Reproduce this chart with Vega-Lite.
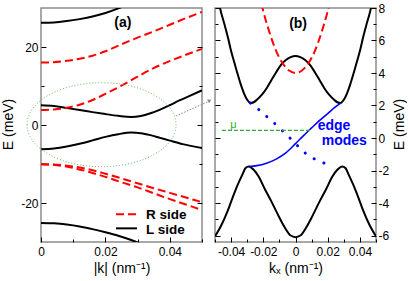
{
 "$schema": "https://vega.github.io/schema/vega-lite/v6.json",
 "background": "white",
 "padding": {"left": 0, "top": 1, "right": 0, "bottom": 0},
 "config": {
  "view": {"stroke": "#8c8c8c", "strokeWidth": 1.5},
  "axis": {"grid": false, "domain": false, "labelFont": "Liberation Sans", "labelFontSize": 12, "labelColor": "#000", "titleFont": "Liberation Sans", "titleFontSize": 14, "titleFontWeight": "normal", "titleColor": "#000", "tickColor": "#000", "tickWidth": 1, "labelFlush": false, "labelOverlap": false},
  "text": {"font": "Liberation Sans"}
 },
 "datasets": {
  "aL": [
   {"curve":"L1","k":0,"E":26.2},{"curve":"L1","k":0.004,"E":26.3},{"curve":"L1","k":0.008,"E":26.65},{"curve":"L1","k":0.012,"E":27.15},{"curve":"L1","k":0.016,"E":27.8},{"curve":"L1","k":0.02,"E":28.7},{"curve":"L1","k":0.024,"E":29.9},{"curve":"L1","k":0.028,"E":31.3},
   {"curve":"L2","k":0,"E":5.05},{"curve":"L2","k":0.004,"E":4.85},{"curve":"L2","k":0.008,"E":4.35},{"curve":"L2","k":0.012,"E":3.85},{"curve":"L2","k":0.016,"E":3.3},{"curve":"L2","k":0.02,"E":2.8},{"curve":"L2","k":0.024,"E":2.35},{"curve":"L2","k":0.028,"E":2.05},{"curve":"L2","k":0.031,"E":2.3},{"curve":"L2","k":0.034,"E":3.0},{"curve":"L2","k":0.037,"E":3.95},{"curve":"L2","k":0.04,"E":5.1},{"curve":"L2","k":0.043,"E":6.3},{"curve":"L2","k":0.046,"E":7.4},{"curve":"L2","k":0.05,"E":8.9},
   {"curve":"L3","k":0,"E":-6.2},{"curve":"L3","k":0.004,"E":-6.0},{"curve":"L3","k":0.008,"E":-5.5},{"curve":"L3","k":0.012,"E":-4.8},{"curve":"L3","k":0.016,"E":-3.95},{"curve":"L3","k":0.02,"E":-3.05},{"curve":"L3","k":0.024,"E":-2.35},{"curve":"L3","k":0.028,"E":-1.95},{"curve":"L3","k":0.031,"E":-2.1},{"curve":"L3","k":0.034,"E":-2.6},{"curve":"L3","k":0.037,"E":-3.3},{"curve":"L3","k":0.04,"E":-4.0},{"curve":"L3","k":0.044,"E":-4.9},{"curve":"L3","k":0.05,"E":-5.9},
   {"curve":"L4","k":0,"E":-25.1},{"curve":"L4","k":0.004,"E":-25.2},{"curve":"L4","k":0.008,"E":-25.5},{"curve":"L4","k":0.012,"E":-26.0},{"curve":"L4","k":0.016,"E":-26.7},{"curve":"L4","k":0.02,"E":-27.5},{"curve":"L4","k":0.024,"E":-28.4},{"curve":"L4","k":0.028,"E":-29.5},{"curve":"L4","k":0.032,"E":-30.8}
  ],
  "aR": [
   {"curve":"R1","k":0,"E":16.0},{"curve":"R1","k":0.004,"E":16.1},{"curve":"R1","k":0.008,"E":16.45},{"curve":"R1","k":0.012,"E":17.0},{"curve":"R1","k":0.016,"E":17.75},{"curve":"R1","k":0.02,"E":18.9},{"curve":"R1","k":0.025,"E":20.7},{"curve":"R1","k":0.03,"E":22.4},{"curve":"R1","k":0.035,"E":24.0},{"curve":"R1","k":0.04,"E":25.7},{"curve":"R1","k":0.045,"E":27.4},{"curve":"R1","k":0.05,"E":29.0},
   {"curve":"R2","k":0,"E":3.85},{"curve":"R2","k":0.004,"E":4.0},{"curve":"R2","k":0.008,"E":4.4},{"curve":"R2","k":0.012,"E":5.2},{"curve":"R2","k":0.016,"E":6.4},{"curve":"R2","k":0.02,"E":8.0},{"curve":"R2","k":0.025,"E":10.1},{"curve":"R2","k":0.03,"E":12.4},{"curve":"R2","k":0.035,"E":14.6},{"curve":"R2","k":0.04,"E":16.4},{"curve":"R2","k":0.045,"E":18.0},{"curve":"R2","k":0.05,"E":19.5},
   {"curve":"R3","k":0,"E":-10.05},{"curve":"R3","k":0.005,"E":-10.2},{"curve":"R3","k":0.01,"E":-10.65},{"curve":"R3","k":0.015,"E":-11.4},{"curve":"R3","k":0.02,"E":-12.5},{"curve":"R3","k":0.025,"E":-13.7},{"curve":"R3","k":0.03,"E":-14.95},{"curve":"R3","k":0.035,"E":-16.2},{"curve":"R3","k":0.04,"E":-17.4},{"curve":"R3","k":0.045,"E":-18.6},{"curve":"R3","k":0.05,"E":-19.8},
   {"curve":"R4","k":0,"E":-10.05},{"curve":"R4","k":0.005,"E":-10.3},{"curve":"R4","k":0.01,"E":-11.0},{"curve":"R4","k":0.015,"E":-12.05},{"curve":"R4","k":0.02,"E":-13.3},{"curve":"R4","k":0.025,"E":-14.7},{"curve":"R4","k":0.03,"E":-16.0},{"curve":"R4","k":0.035,"E":-17.5},{"curve":"R4","k":0.04,"E":-19.0},{"curve":"R4","k":0.045,"E":-20.4},{"curve":"R4","k":0.05,"E":-21.8}
  ],
  "aEll": [{"k":0.0188,"E":0.08}],
  "aArrow": [{"k":0.0419,"E":2.3},{"k":0.0522,"E":6.1}],
  "aHead": [{"k":0.0524,"E":6.25}],
  "aLegR": [{"label":"R side","k":0.0233,"k2":0.0298,"E":-22.9}],
  "aLegL": [{"label":"L side","k":0.0233,"k2":0.0298,"E":-26.5}],
  "aLegT": [{"label":"R side","k":0.0326,"E":-23.0},{"label":"L side","k":0.0326,"E":-26.8}],
  "aTag": [{"label":"(a)","k":0.0254,"E":26.15}],
  "bL": [
   {"curve":"U","k":-0.05,"E":9.2},{"curve":"U","k":-0.048,"E":8.45},{"curve":"U","k":-0.046,"E":7.65},{"curve":"U","k":-0.044,"E":6.95},{"curve":"U","k":-0.042,"E":6.2},{"curve":"U","k":-0.04,"E":5.35},{"curve":"U","k":-0.038,"E":4.65},{"curve":"U","k":-0.036,"E":3.95},{"curve":"U","k":-0.034,"E":3.3},{"curve":"U","k":-0.032,"E":2.75},{"curve":"U","k":-0.03,"E":2.35},{"curve":"U","k":-0.028,"E":2.15},{"curve":"U","k":-0.026,"E":2.2},{"curve":"U","k":-0.024,"E":2.35},{"curve":"U","k":-0.021,"E":2.65},{"curve":"U","k":-0.018,"E":3.05},{"curve":"U","k":-0.015,"E":3.55},{"curve":"U","k":-0.012,"E":4.05},{"curve":"U","k":-0.009,"E":4.5},{"curve":"U","k":-0.006,"E":4.8},{"curve":"U","k":-0.003,"E":4.98},{"curve":"U","k":0,"E":5.05},
   {"curve":"U","k":0.003,"E":4.98},{"curve":"U","k":0.006,"E":4.8},{"curve":"U","k":0.009,"E":4.5},{"curve":"U","k":0.012,"E":4.05},{"curve":"U","k":0.015,"E":3.55},{"curve":"U","k":0.018,"E":3.05},{"curve":"U","k":0.021,"E":2.65},{"curve":"U","k":0.024,"E":2.35},{"curve":"U","k":0.026,"E":2.2},{"curve":"U","k":0.028,"E":2.15},{"curve":"U","k":0.03,"E":2.35},{"curve":"U","k":0.032,"E":2.75},{"curve":"U","k":0.034,"E":3.3},{"curve":"U","k":0.036,"E":3.95},{"curve":"U","k":0.038,"E":4.65},{"curve":"U","k":0.04,"E":5.35},{"curve":"U","k":0.042,"E":6.2},{"curve":"U","k":0.044,"E":6.95},{"curve":"U","k":0.046,"E":7.65},{"curve":"U","k":0.048,"E":8.45},{"curve":"U","k":0.05,"E":9.2},
   {"curve":"D","k":-0.05,"E":-6.05},{"curve":"D","k":-0.046,"E":-5.35},{"curve":"D","k":-0.042,"E":-4.45},{"curve":"D","k":-0.039,"E":-3.65},{"curve":"D","k":-0.036,"E":-2.9},{"curve":"D","k":-0.033,"E":-2.25},{"curve":"D","k":-0.031,"E":-1.85},{"curve":"D","k":-0.029,"E":-1.75},{"curve":"D","k":-0.026,"E":-1.95},{"curve":"D","k":-0.023,"E":-2.35},{"curve":"D","k":-0.019,"E":-3.15},{"curve":"D","k":-0.015,"E":-3.9},{"curve":"D","k":-0.011,"E":-4.7},{"curve":"D","k":-0.007,"E":-5.45},{"curve":"D","k":-0.003,"E":-6.0},{"curve":"D","k":0,"E":-6.1},
   {"curve":"D","k":0.003,"E":-6.0},{"curve":"D","k":0.007,"E":-5.45},{"curve":"D","k":0.011,"E":-4.7},{"curve":"D","k":0.015,"E":-3.9},{"curve":"D","k":0.019,"E":-3.15},{"curve":"D","k":0.023,"E":-2.35},{"curve":"D","k":0.026,"E":-1.95},{"curve":"D","k":0.029,"E":-1.75},{"curve":"D","k":0.031,"E":-1.85},{"curve":"D","k":0.033,"E":-2.25},{"curve":"D","k":0.036,"E":-2.9},{"curve":"D","k":0.039,"E":-3.65},{"curve":"D","k":0.042,"E":-4.45},{"curve":"D","k":0.046,"E":-5.35},{"curve":"D","k":0.05,"E":-6.05}
  ],
  "bR": [
   {"k":-0.023,"E":9.0},{"k":-0.02,"E":7.8},{"k":-0.016,"E":6.45},{"k":-0.012,"E":5.35},{"k":-0.008,"E":4.6},{"k":-0.004,"E":4.15},{"k":0,"E":4.0},{"k":0.004,"E":4.15},{"k":0.008,"E":4.6},{"k":0.012,"E":5.35},{"k":0.016,"E":6.45},{"k":0.02,"E":7.8},{"k":0.023,"E":9.0}
  ],
  "bEdge": [
   {"k":-0.029,"E":-1.75},{"k":-0.024,"E":-1.7},{"k":-0.018,"E":-1.55},{"k":-0.012,"E":-1.3},{"k":-0.006,"E":-0.92},{"k":0,"E":-0.35},{"k":0.005,"E":0.15},{"k":0.01,"E":0.62},{"k":0.015,"E":1.08},{"k":0.02,"E":1.5},{"k":0.024,"E":1.85},{"k":0.028,"E":2.15}
  ],
  "bDot": [
   {"k":-0.028,"E":2.15},{"k":-0.024,"E":1.85},{"k":-0.02,"E":1.5},{"k":-0.015,"E":1.08},{"k":-0.01,"E":0.62},{"k":-0.005,"E":0.15},{"k":0,"E":-0.35},{"k":0.006,"E":-0.92},{"k":0.012,"E":-1.3},{"k":0.018,"E":-1.55},{"k":0.023,"E":-1.66}
  ],
  "bMu": [{"k":-0.0457,"k2":0.009,"E":0.47}],
  "bMuT": [{"label":"μ","k":-0.0386,"E":0.62}],
  "bEdgeT": [{"label":"edge","k":0.0138,"E":0.51},{"label":"modes","k":0.0163,"E":-0.46}],
  "bTag": [{"label":"(b)","k":0.0016,"E":7.0}]
 },
 "spacing": 13,
 "bounds": "flush",
 "hconcat": [
  {
   "width": 161, "height": 234,
   "resolve": {"axis": {"x": "independent", "y": "independent"}},
   "layer": [
    {"data": {"name": "aL"}, "mark": {"type": "line", "color": "#000", "strokeWidth": 2, "clip": true, "interpolate": "monotone"},
     "encoding": {
      "x": {"field": "k", "type": "quantitative", "scale": {"domain": [0, 0.05], "nice": false, "zero": false}, "axis": {"orient": "bottom", "values": [0, 0.02, 0.04], "ticks": false, "labelPadding": 9, "labelBaseline": "middle", "labelExpr": "datum.value < 0 ? '-' + format(-datum.value, '~g') : format(datum.value, '~g')", "title": "|k| (nm⁻¹)", "titleY": 26.5, "titleBaseline": "middle"}},
      "y": {"field": "E", "type": "quantitative", "scale": {"domain": [-30, 30], "nice": false, "zero": false}, "axis": {"orient": "left", "values": [-20, 0, 20], "ticks": false, "labelPadding": 3, "labelExpr": "datum.value < 0 ? '-' + format(-datum.value, '~g') : format(datum.value, '~g')", "title": "E (meV)", "titleAngle": 270, "titleX": -32.5, "titleY": 116, "titleAlign": "center", "titleBaseline": "middle"}},
      "detail": {"field": "curve", "type": "nominal"}
     }},
    {"data": {"name": "aR"}, "mark": {"type": "line", "color": "#ff0000", "strokeWidth": 2, "strokeDash": [8, 4], "clip": true, "interpolate": "monotone"},
     "encoding": {
      "x": {"field": "k", "type": "quantitative", "scale": {"domain": [0, 0.05], "nice": false, "zero": false}, "axis": {"orient": "bottom", "values": [0, 0.02, 0.04], "labels": false, "tickSize": -5, "title": null}},
      "y": {"field": "E", "type": "quantitative", "scale": {"domain": [-30, 30], "nice": false, "zero": false}, "axis": {"orient": "left", "values": [-20, 0, 20], "labels": false, "tickSize": -5, "title": null}},
      "detail": {"field": "curve", "type": "nominal"}
     }},
    {"data": {"name": "aEll"}, "mark": {"type": "point", "shape": "M-1,0A1,0.564,0,1,1,1,0A1,0.564,0,1,1,-1,0Z", "size": 22201, "filled": false, "stroke": "#66bb66", "strokeWidth": 1, "strokeDash": [1, 2], "opacity": 1, "clip": false},
     "encoding": {
      "x": {"field": "k", "type": "quantitative", "scale": {"domain": [0, 0.05], "nice": false, "zero": false}, "axis": {"orient": "bottom", "values": [0.01, 0.03, 0.05], "labels": false, "tickSize": -3, "title": null}},
      "y": {"field": "E", "type": "quantitative", "scale": {"domain": [-30, 30], "nice": false, "zero": false}, "axis": {"orient": "left", "values": [-10, 10], "labels": false, "tickSize": -3, "title": null}}
     }},
    {"data": {"name": "aArrow"}, "mark": {"type": "line", "color": "#888888", "strokeWidth": 1, "strokeDash": [1.5, 1.5], "clip": false},
     "encoding": {
      "x": {"field": "k", "type": "quantitative", "scale": {"domain": [0, 0.05], "nice": false, "zero": false}, "axis": null},
      "y": {"field": "E", "type": "quantitative", "scale": {"domain": [-30, 30], "nice": false, "zero": false}, "axis": {"orient": "right", "values": [-20, 0, 20], "labels": false, "tickSize": -5, "title": null}}
     }},
    {"data": {"name": "aHead"}, "mark": {"type": "point", "shape": "triangle-right", "size": 18, "filled": true, "color": "#888888", "opacity": 1, "angle": 335, "clip": false},
     "encoding": {
      "x": {"field": "k", "type": "quantitative", "scale": {"domain": [0, 0.05], "nice": false, "zero": false}, "axis": null},
      "y": {"field": "E", "type": "quantitative", "scale": {"domain": [-30, 30], "nice": false, "zero": false}, "axis": {"orient": "right", "values": [-10, 10], "labels": false, "tickSize": -3, "title": null}}
     }},
    {"data": {"name": "aLegR"}, "mark": {"type": "rule", "color": "#ff0000", "strokeWidth": 2, "strokeDash": [8, 4]},
     "encoding": {
      "x": {"field": "k", "type": "quantitative", "scale": {"domain": [0, 0.05], "nice": false, "zero": false}, "axis": null},
      "x2": {"field": "k2"},
      "y": {"field": "E", "type": "quantitative", "scale": {"domain": [-30, 30], "nice": false, "zero": false}, "axis": null}
     }},
    {"data": {"name": "aLegL"}, "mark": {"type": "rule", "color": "#000", "strokeWidth": 2},
     "encoding": {
      "x": {"field": "k", "type": "quantitative", "scale": {"domain": [0, 0.05], "nice": false, "zero": false}, "axis": null},
      "x2": {"field": "k2"},
      "y": {"field": "E", "type": "quantitative", "scale": {"domain": [-30, 30], "nice": false, "zero": false}, "axis": null}
     }},
    {"data": {"name": "aLegT"}, "mark": {"type": "text", "font": "Liberation Sans", "fontSize": 13.5, "fontWeight": "bold", "align": "left", "baseline": "middle", "color": "#000"},
     "encoding": {
      "x": {"field": "k", "type": "quantitative", "scale": {"domain": [0, 0.05], "nice": false, "zero": false}, "axis": null},
      "y": {"field": "E", "type": "quantitative", "scale": {"domain": [-30, 30], "nice": false, "zero": false}, "axis": null},
      "text": {"field": "label"}
     }},
    {"data": {"name": "aTag"}, "mark": {"type": "text", "font": "Liberation Sans", "fontSize": 14, "fontWeight": "bold", "align": "center", "baseline": "middle", "color": "#000"},
     "encoding": {
      "x": {"field": "k", "type": "quantitative", "scale": {"domain": [0, 0.05], "nice": false, "zero": false}, "axis": null},
      "y": {"field": "E", "type": "quantitative", "scale": {"domain": [-30, 30], "nice": false, "zero": false}, "axis": null},
      "text": {"field": "label"}
     }}
   ]
  },
  {
   "width": 161, "height": 234,
   "resolve": {"axis": {"x": "independent", "y": "independent"}},
   "layer": [
    {"data": {"name": "bL"}, "mark": {"type": "line", "color": "#000", "strokeWidth": 2, "clip": true, "interpolate": "monotone"},
     "encoding": {
      "x": {"field": "k", "type": "quantitative", "scale": {"domain": [-0.05, 0.05], "nice": false, "zero": false}, "axis": {"orient": "bottom", "values": [-0.04, -0.02, 0, 0.02, 0.04], "ticks": false, "labelPadding": 9, "labelBaseline": "middle", "labelExpr": "datum.value < 0 ? '-' + format(-datum.value, '~g') : format(datum.value, '~g')", "title": "kₓ (nm⁻¹)", "titleY": 26.5, "titleBaseline": "middle"}},
      "y": {"field": "E", "type": "quantitative", "scale": {"domain": [-6.4, 8], "nice": false, "zero": false}, "axis": {"orient": "right", "values": [-6, -4, -2, 0, 2, 4, 6, 8], "ticks": false, "labelPadding": 2, "labelExpr": "datum.value < 0 ? '-' + format(-datum.value, '~g') : format(datum.value, '~g')", "title": "E (meV)", "titleAngle": 270, "titleX": 23, "titleY": 116, "titleAlign": "center", "titleBaseline": "middle"}},
      "detail": {"field": "curve", "type": "nominal"}
     }},
    {"data": {"name": "bR"}, "mark": {"type": "line", "color": "#ff0000", "strokeWidth": 2, "strokeDash": [8, 4], "clip": true, "interpolate": "monotone"},
     "encoding": {
      "x": {"field": "k", "type": "quantitative", "scale": {"domain": [-0.05, 0.05], "nice": false, "zero": false}, "axis": {"orient": "bottom", "values": [-0.04, -0.02, 0, 0.02, 0.04], "labels": false, "tickSize": -5, "title": null}},
      "y": {"field": "E", "type": "quantitative", "scale": {"domain": [-6.4, 8], "nice": false, "zero": false}, "axis": {"orient": "right", "values": [-6, -4, -2, 0, 2, 4, 6, 8], "labels": false, "tickSize": -5, "title": null}}
     }},
    {"data": {"name": "bEdge"}, "mark": {"type": "line", "color": "#0000ff", "strokeWidth": 1.6, "interpolate": "monotone"},
     "encoding": {
      "x": {"field": "k", "type": "quantitative", "scale": {"domain": [-0.05, 0.05], "nice": false, "zero": false}, "axis": {"orient": "bottom", "values": [-0.05, -0.03, -0.01, 0.01, 0.03, 0.05], "labels": false, "tickSize": -3, "title": null}},
      "y": {"field": "E", "type": "quantitative", "scale": {"domain": [-6.4, 8], "nice": false, "zero": false}, "axis": {"orient": "right", "values": [-5, -3, -1, 1, 3, 5, 7], "labels": false, "tickSize": -3, "title": null}}
     }},
    {"data": {"name": "bDot"}, "mark": {"type": "line", "color": "#0000ff", "strokeWidth": 3, "strokeCap": "round", "strokeDash": [0.1, 10.5], "interpolate": "monotone"},
     "encoding": {
      "x": {"field": "k", "type": "quantitative", "scale": {"domain": [-0.05, 0.05], "nice": false, "zero": false}, "axis": null},
      "y": {"field": "E", "type": "quantitative", "scale": {"domain": [-6.4, 8], "nice": false, "zero": false}, "axis": {"orient": "left", "values": [-6, -4, -2, 0, 2, 4, 6, 8], "labels": false, "tickSize": -5, "title": null}}
     }},
    {"data": {"name": "bMu"}, "mark": {"type": "rule", "color": "#33aa33", "strokeWidth": 1.3, "strokeDash": [4, 2]},
     "encoding": {
      "x": {"field": "k", "type": "quantitative", "scale": {"domain": [-0.05, 0.05], "nice": false, "zero": false}, "axis": null},
      "x2": {"field": "k2"},
      "y": {"field": "E", "type": "quantitative", "scale": {"domain": [-6.4, 8], "nice": false, "zero": false}, "axis": {"orient": "left", "values": [-5, -3, -1, 1, 3, 5, 7], "labels": false, "tickSize": -3, "title": null}}
     }},
    {"data": {"name": "bMuT"}, "mark": {"type": "text", "font": "Liberation Sans", "fontSize": 11, "align": "center", "baseline": "alphabetic", "color": "#33aa33"},
     "encoding": {
      "x": {"field": "k", "type": "quantitative", "scale": {"domain": [-0.05, 0.05], "nice": false, "zero": false}, "axis": null},
      "y": {"field": "E", "type": "quantitative", "scale": {"domain": [-6.4, 8], "nice": false, "zero": false}, "axis": null},
      "text": {"field": "label"}
     }},
    {"data": {"name": "bEdgeT"}, "mark": {"type": "text", "font": "Liberation Sans", "fontSize": 14, "fontWeight": "bold", "align": "left", "baseline": "alphabetic", "color": "#0000ff"},
     "encoding": {
      "x": {"field": "k", "type": "quantitative", "scale": {"domain": [-0.05, 0.05], "nice": false, "zero": false}, "axis": null},
      "y": {"field": "E", "type": "quantitative", "scale": {"domain": [-6.4, 8], "nice": false, "zero": false}, "axis": null},
      "text": {"field": "label"}
     }},
    {"data": {"name": "bTag"}, "mark": {"type": "text", "font": "Liberation Sans", "fontSize": 14, "fontWeight": "bold", "align": "center", "baseline": "middle", "color": "#000"},
     "encoding": {
      "x": {"field": "k", "type": "quantitative", "scale": {"domain": [-0.05, 0.05], "nice": false, "zero": false}, "axis": null},
      "y": {"field": "E", "type": "quantitative", "scale": {"domain": [-6.4, 8], "nice": false, "zero": false}, "axis": null},
      "text": {"field": "label"}
     }}
   ]
  }
 ]
}
